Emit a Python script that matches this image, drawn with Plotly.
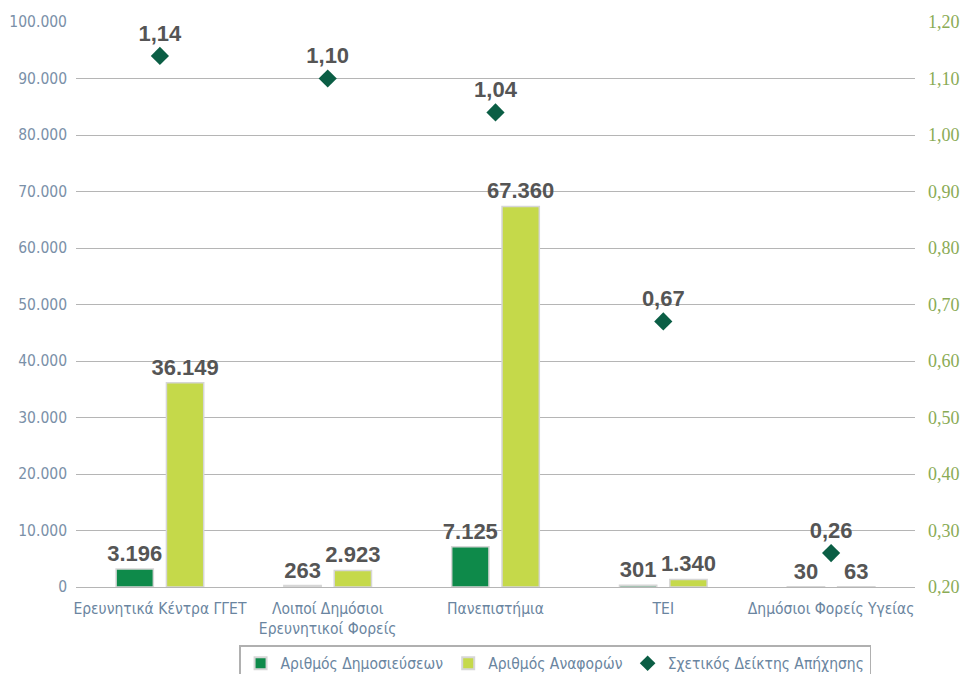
import plotly.graph_objects as go

categories = ["Ερευνητικά Κέντρα ΓΓΕΤ", "Λοιποί Δημόσιοι<br>Ερευνητικοί Φορείς",
              "Πανεπιστήμια", "ΤΕΙ", "Δημόσιοι Φορείς Υγείας"]
publications = [3196, 263, 7125, 301, 30]
citations = [36149, 2923, 67360, 1340, 63]
relative_index = [1.14, 1.10, 1.04, 0.67, 0.26]

label_font = dict(family="Liberation Sans, Arial", size=22, color="#555555")
axis_font = dict(family="DejaVu Sans Condensed, Liberation Sans Narrow, Roboto", size=15.5, color="#6a85a0")

fig = go.Figure()
fig.add_trace(go.Bar(x=categories, y=publications, name="Αριθμός Δημοσιεύσεων",
                     marker=dict(color="#0e8a4a", line=dict(color="#d6d6d6", width=1.5)),
                     texttemplate="<b>%{y:,}</b>", textposition="outside", constraintext="none",
                     textfont=label_font, cliponaxis=False))
fig.add_trace(go.Bar(x=categories, y=citations, name="Αριθμός Αναφορών",
                     marker=dict(color="#c5d94a", line=dict(color="#d6d6d6", width=1.5)),
                     texttemplate="<b>%{y:,}</b>", textposition="outside", constraintext="none",
                     textfont=label_font, cliponaxis=False))
fig.add_trace(go.Scatter(x=categories, y=relative_index, name="Σχετικός Δείκτης Απήχησης",
                         yaxis="y2", mode="markers+text",
                         marker=dict(symbol="diamond", size=14, color="#0b5e45"),
                         texttemplate="<b>%{y:.2f}</b>", textposition="top center",
                         textfont=label_font, cliponaxis=False))

# the page body adds an 8px offset, so the figure is 16px smaller than the window
fig.update_layout(
    width=965, height=666,
    separators=",.",
    plot_bgcolor="white", paper_bgcolor="white",
    margin=dict(l=68, r=58, t=14, b=87, autoexpand=False),
    barmode="group", bargap=0.4, bargroupgap=0.26,
    xaxis=dict(tickfont=axis_font, showline=False, ticks="", automargin=False,
               ticklabelstandoff=10),
    yaxis=dict(range=[0, 100000], dtick=10000, tickformat=",d", automargin=False,
               showgrid=True, gridcolor="#b5b5b5", gridwidth=1,
               zeroline=True, zerolinecolor="#b5b5b5", zerolinewidth=1,
               tickfont=dict(family="DejaVu Sans Condensed, Roboto", size=15.5, color="#7a90a8"),
               ticks="", ticklabelstandoff=8),
    yaxis2=dict(range=[0.2, 1.2], dtick=0.1, tickformat=".2f", overlaying="y", side="right",
                showgrid=False, zeroline=False, ticklabelstandoff=12, automargin=False,
                tickfont=dict(family="Liberation Serif, DejaVu Serif, serif", size=18, color="#8aab55")),
    legend=dict(orientation="h", x=0.571, xanchor="center", y=-0.103, yanchor="top",
                font=axis_font, bordercolor="#b0b0b0", borderwidth=1.5,
                traceorder="normal", itemsizing="constant"),
    showlegend=True,
)

fig.write_html("out.html")
